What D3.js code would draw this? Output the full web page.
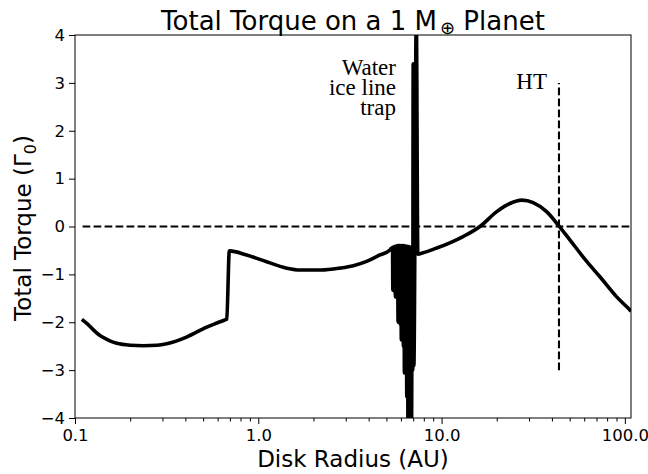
<!DOCTYPE html>
<html>
<head>
<meta charset="utf-8">
<script src="https://cdn.jsdelivr.net/npm/d3@7"></script>
<style>
  html, body { margin: 0; padding: 0; background: #fff; }
  svg { display: block; }
  text { fill: #000; }
</style>
</head>
<body>
<svg id="chart" width="648" height="474"></svg>
<script>
// ---- Data ----
const radius = [
  0.109, 0.118, 0.126, 0.134, 0.143, 0.155, 0.169, 0.200, 0.236, 0.280, 0.316, 0.406, 0.523, 0.600, 0.658, 0.673,
  0.695, 0.864, 1.11, 1.43, 1.69, 2.20, 2.79, 3.30, 3.90, 4.61, 5.23,
  5.30, 5.40, 5.42, 5.45, 5.48, 5.51, 5.54, 5.57, 5.60, 5.63, 5.66, 5.69, 5.72,
  5.75, 5.79, 5.83, 5.87, 5.91, 5.95, 5.99, 6.03, 6.07, 6.11, 6.15, 6.19, 6.23,
  6.27, 6.31, 6.36, 6.41, 6.46, 6.51, 6.56, 6.61, 6.66, 6.71, 6.76, 6.81, 6.86,
  6.91, 6.96, 7.00, 7.06, 7.28, 7.42,
  7.92, 9.4, 11.1, 13.1, 16.2, 20.0, 23.6, 27.4, 31.6, 37.4, 43.3, 50.1, 61.9,
  73.1, 90.2, 104.4, 108
];
const torque = [
  -1.94, -2.05, -2.16, -2.25, -2.32, -2.39, -2.44, -2.48, -2.49, -2.48, -2.45, -2.31, -2.10, -2.01, -1.95, -1.93,
  -0.51, -0.595, -0.735, -0.87, -0.91, -0.91, -0.87, -0.82, -0.73, -0.595, -0.49,
  -0.46, -0.44, -1.33, -0.43, -1.33, -0.42, -1.36, -0.42, -1.47, -0.41, -1.47, -0.41, -1.40,
  -0.40, -2.0, -0.40, -2.0, -0.40, -2.05, -0.40, -2.37, -0.40, -2.37, -0.40, -2.5, -0.40,
  -3.06, -0.41, -3.06, -0.41, -3.56, -0.42, -4.3, -0.42, -4.3, -0.43, -4.3, -0.44, -4.1,
  -0.45, -3.0, 3.4, -2.9, 4.4, -0.58,
  -0.55, -0.45, -0.34, -0.21, 0.0, 0.31, 0.48, 0.55, 0.50, 0.31, 0.03, -0.28, -0.73,
  -1.05, -1.47, -1.71, -1.77
];
const xMajorTicks = [0.1, 1, 10, 100];
const xTickLabels = ["0.1", "1.0", "10.0", "100.0"];
const xMinorTicks = [0.2,0.3,0.4,0.5,0.6,0.7,0.8,0.9, 2,3,4,5,6,7,8,9, 20,30,40,50,60,70,80,90];
const yTicks = [-4, -3, -2, -1, 0, 1, 2, 3, 4];
const xDomain = [0.1, 108];
const yDomain = [-4, 4];
const zeroLine = { r: [0.11, 108], t: 0 };
const htLine = { r: 43.7, t: [-3, 3] };
const iceLabel = ["Water", "ice line", "trap"];
const htLabel = "HT";

// ---- Layout ----
const SANS = "'DejaVu Sans', sans-serif";
const SERIF = "'Liberation Serif', 'DejaVu Serif', serif";
const L = 75, R = 631, T = 35, B = 418;
const svg = d3.select("#chart");
const x = d3.scaleLog().domain(xDomain).range([L, R]);
const y = d3.scaleLinear().domain(yDomain).range([B, T]);

svg.append("defs").append("clipPath").attr("id", "clip")
  .append("rect").attr("x", L).attr("y", T).attr("width", R - L).attr("height", B - T);

const plot = svg.append("g").attr("clip-path", "url(#clip)");

// dashed zero line
plot.append("line")
  .attr("x1", x(zeroLine.r[0])).attr("x2", x(zeroLine.r[1]))
  .attr("y1", y(zeroLine.t)).attr("y2", y(zeroLine.t))
  .attr("stroke", "#000").attr("stroke-width", 2.1).attr("stroke-dasharray", "7.7,3.3");

// dashed HT line
plot.append("line")
  .attr("x1", x(htLine.r)).attr("x2", x(htLine.r))
  .attr("y1", y(htLine.t[0])).attr("y2", y(htLine.t[1]))
  .attr("stroke", "#000").attr("stroke-width", 2.1).attr("stroke-dasharray", "7.7,3.3");

// torque curve
const pts = radius.map((r, i) => [r, torque[i]]);
plot.append("path")
  .datum(pts)
  .attr("fill", "none").attr("stroke", "#000").attr("stroke-width", 3.6)
  .attr("stroke-linejoin", "round").attr("stroke-linecap", "butt")
  .attr("d", d3.line().curve(d3.curveMonotoneX).x(d => x(d[0])).y(d => y(d[1])));

// frame
svg.append("rect").attr("x", L).attr("y", T).attr("width", R - L).attr("height", B - T)
  .attr("fill", "none").attr("stroke", "#000").attr("stroke-width", 1);

// axes
const xAxis = svg.append("g").attr("transform", `translate(0,${B})`)
  .call(d3.axisBottom(x).tickValues(xMajorTicks).tickSize(6).tickPadding(5)
    .tickFormat((d, i) => xTickLabels[i]));
const xMinor = svg.append("g").attr("transform", `translate(0,${B})`)
  .call(d3.axisBottom(x).tickValues(xMinorTicks).tickSize(3.5).tickFormat(""));
const yAxis = svg.append("g").attr("transform", `translate(${L},0)`)
  .call(d3.axisLeft(y).tickValues(yTicks).tickSize(6).tickPadding(4)
    .tickFormat(d => d < 0 ? "\u2212" + Math.abs(d) : String(d)));
[xAxis, xMinor, yAxis].forEach(g => {
  g.select(".domain").remove();
  g.selectAll("line").attr("stroke", "#000").attr("stroke-width", 1);
  g.selectAll("text").style("font-family", SANS).style("font-size", "16.5px").attr("fill", "#000");
});

// title
const title = svg.append("text").attr("x", 353).attr("y", 30).attr("text-anchor", "middle")
  .style("font-family", SANS).style("font-size", "26px");
title.append("tspan").text("Total Torque on a 1 M");
title.append("tspan").style("font-size", "18px").attr("dx", 3).attr("dy", 4).text("\u2295");
title.append("tspan").attr("dy", -4).text(" Planet");

// x label
svg.append("text").attr("x", 353).attr("y", 467).attr("text-anchor", "middle")
  .style("font-family", SANS).style("font-size", "23px").text("Disk Radius (AU)");

// y label
const yl = svg.append("text").attr("transform", "translate(31,228) rotate(-90)")
  .attr("text-anchor", "middle").style("font-family", SANS).style("font-size", "23px");
yl.append("tspan").text("Total Torque (\u0393");
yl.append("tspan").style("font-size", "16px").attr("dy", 5).text("0");
yl.append("tspan").attr("dy", -5).text(")");

// annotations (serif)
const ice = svg.append("text").attr("text-anchor", "end")
  .style("font-family", SERIF).style("font-size", "23px");
iceLabel.forEach((s, i) => {
  ice.append("tspan").attr("x", 396).attr("y", 75 + i * 20).text(s);
});
svg.append("text").attr("x", 547).attr("y", 89).attr("text-anchor", "end")
  .style("font-family", SERIF).style("font-size", "23px").text(htLabel);
</script>
</body>
</html>
